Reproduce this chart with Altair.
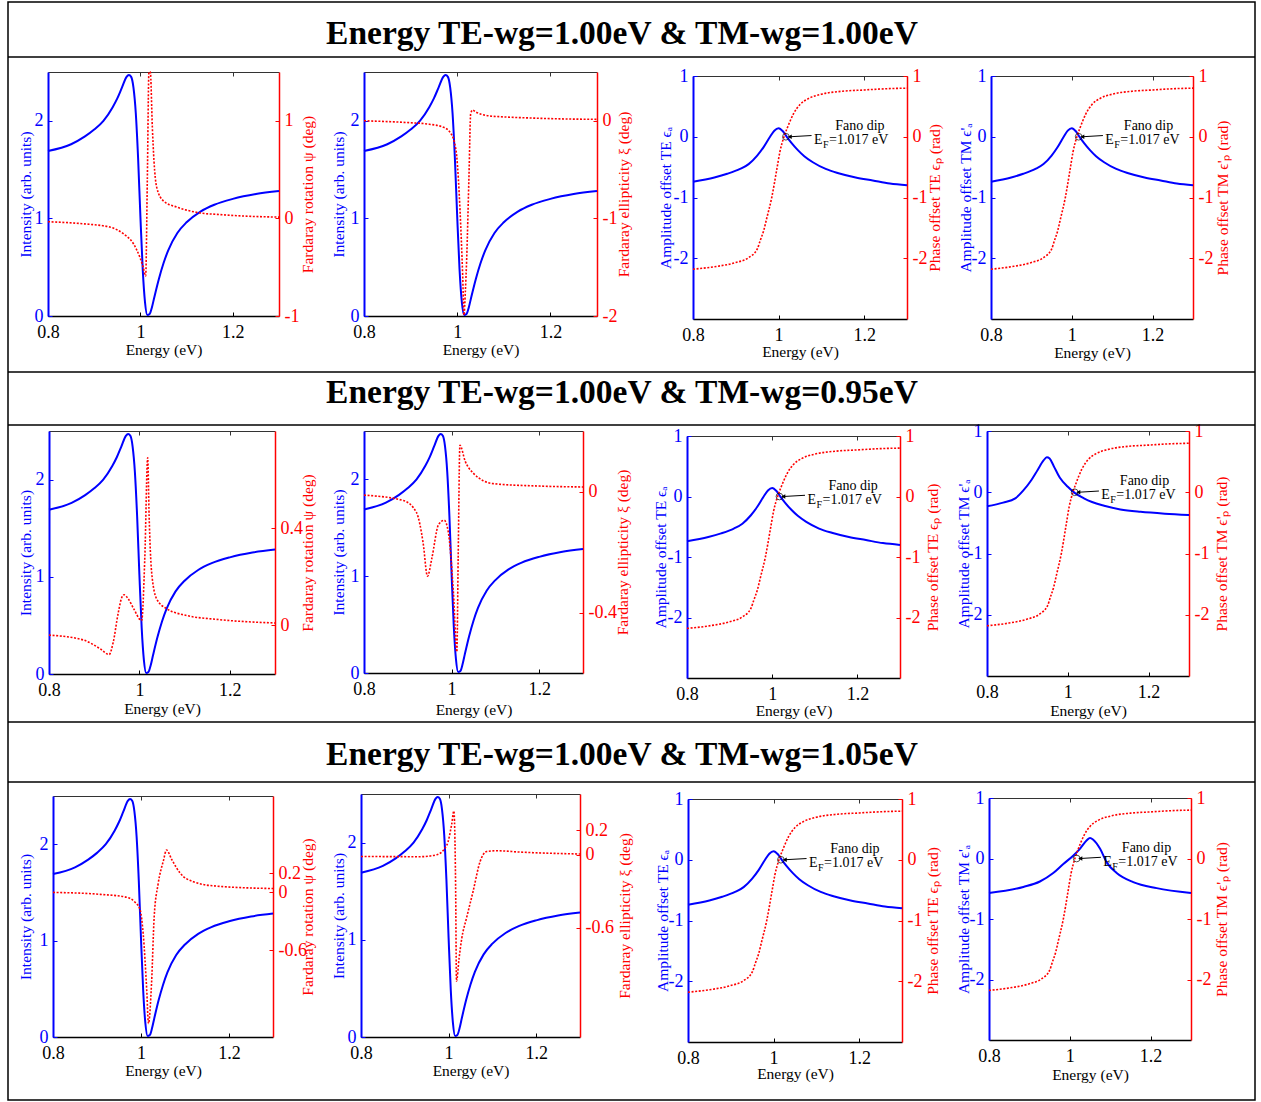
import altair as alt
import pandas as pd

# ---------------- text ----------------
HEADERS = [
    "Energy TE-wg=1.00eV & TM-wg=1.00eV",
    "Energy TE-wg=1.00eV & TM-wg=0.95eV",
    "Energy TE-wg=1.00eV & TM-wg=1.05eV",
]
T_X = "Energy (eV)"
T_INT = "Intensity (arb. units)"
T_ROT = "Fardaray rotation ψ (deg)"
T_ELL = "Fardaray ellipticity ξ (deg)"
T_AMP_TE = "Amplitude offset TE ϵₐ"
T_PH_TE = "Phase offset TE ϵₚ (rad)"
T_AMP_TM = "Amplitude offset TM ϵ'ₐ"
T_PH_TM = "Phase offset TM ϵ'ₚ (rad)"

X_TICKS = [0.8, 1.0, 1.2]

# ---------------- data ----------------
# transmitted intensity (same in every row, columns 1-2)
E_INT = [0.80, 0.85, 0.88, 0.90, 0.92, 0.94, 0.95, 0.96, 0.97, 0.975, 0.98, 0.985,
         0.99, 0.995, 1.00, 1.005, 1.01, 1.015, 1.02, 1.025, 1.03, 1.04, 1.05, 1.06,
         1.08, 1.10, 1.13, 1.16, 1.20, 1.25, 1.30]
INTENSITY = [1.69, 1.76, 1.84, 1.91, 2.00, 2.14, 2.23, 2.34, 2.45, 2.47, 2.45, 2.34,
             2.08, 1.62, 1.02, 0.48, 0.14, 0.01, 0.02, 0.09, 0.19, 0.38, 0.54, 0.67,
             0.85, 0.96, 1.07, 1.14, 1.20, 1.25, 1.28]

# Faraday rotation, row 1
E_ROT1 = [0.80, 0.876, 0.934, 0.963, 0.985, 0.999, 1.006, 1.0114, 1.0150, 1.0185,
          1.0215, 1.0258, 1.0294, 1.0352, 1.0496, 1.0785, 1.10, 1.13, 1.17, 1.22, 1.30]
ROT1 = [-0.034, -0.055, -0.089, -0.157, -0.26, -0.40, -0.50, -0.59, 0.40, 1.50,
        1.50, 0.94, 0.59, 0.32, 0.18, 0.116, 0.085, 0.055, 0.04, 0.025, 0.013]

# Faraday ellipticity, row 1
E_ELL1 = [0.80, 0.85, 0.90, 0.94, 0.97, 0.985, 0.994, 0.9989, 1.006, 1.0118, 1.0146,
          1.0175, 1.0203, 1.0253, 1.0289, 1.033, 1.04, 1.05, 1.07, 1.10, 1.15, 1.22, 1.30]
ELL1 = [0.0, -0.008, -0.02, -0.035, -0.065, -0.12, -0.22, -0.36, -0.91, -1.59, -1.99,
        -1.75, -1.42, -0.56, 0.07, 0.11, 0.09, 0.07, 0.05, 0.04, 0.03, 0.02, 0.015]

# Faraday rotation, row 2
E_ROT2 = [0.80, 0.876, 0.913, 0.933, 0.942, 0.953, 0.961, 0.966, 0.975, 0.987, 1.005,
          1.012, 1.0183, 1.0215, 1.027, 1.038, 1.060, 1.104, 1.17, 1.30]
ROT2 = [-0.04, -0.06, -0.096, -0.12, -0.07, 0.05, 0.115, 0.126, 0.11, 0.07, 0.02,
        0.28, 0.69, 0.45, 0.22, 0.11, 0.069, 0.041, 0.025, 0.01]

# Faraday ellipticity, row 2
E_ELL2 = [0.80, 0.89, 0.92, 0.935, 0.945, 0.955, 0.970, 0.983, 0.992, 1.004, 1.012,
          1.015, 1.019, 1.031, 1.050, 1.095, 1.20, 1.30]
ELL2 = [-0.012, -0.03, -0.07, -0.17, -0.28, -0.22, -0.11, -0.095, -0.13, -0.33, -0.53,
        -0.22, 0.153, 0.10, 0.06, 0.026, 0.018, 0.015]

# Faraday rotation, row 3
E_ROT3 = [0.80, 0.907, 0.967, 0.986, 0.998, 1.005, 1.013, 1.017, 1.024, 1.030, 1.039,
          1.051, 1.058, 1.070, 1.089, 1.119, 1.172, 1.30]
ROT3 = [0.0, -0.02, -0.05, -0.10, -0.18, -0.43, -1.01, -1.36, -0.94, -0.25, 0.09,
        0.33, 0.44, 0.34, 0.20, 0.11, 0.065, 0.04]

# Faraday ellipticity, row 3
E_ELL3 = [0.80, 0.935, 0.973, 0.996, 1.007, 1.012, 1.016, 1.018, 1.024, 1.030, 1.041,
          1.056, 1.072, 1.087, 1.110, 1.163, 1.30]
ELL3 = [-0.014, -0.016, 0.0, 0.08, 0.25, 0.36, -0.25, -1.04, -0.85, -0.69, -0.52,
        -0.30, -0.055, 0.027, 0.033, 0.022, 0.006]

# amplitude offset TE (also TM in row 1)
E_AMP = [0.80, 0.85, 0.88, 0.91, 0.93, 0.95, 0.965, 0.98, 0.99, 1.00, 1.01, 1.02,
         1.03, 1.045, 1.06, 1.08, 1.11, 1.14, 1.18, 1.22, 1.26, 1.30]
AMP_TE = [-0.74, -0.67, -0.61, -0.53, -0.45, -0.31, -0.17, 0.0, 0.10, 0.14, 0.09, -0.01,
          -0.10, -0.22, -0.32, -0.42, -0.53, -0.60, -0.67, -0.72, -0.77, -0.80]

# amplitude offset TM, row 2 and row 3
E_TM2 = [0.80, 0.84, 0.87, 0.89, 0.91, 0.925, 0.94, 0.948, 0.955, 0.965, 0.98, 1.0,
         1.017, 1.04, 1.06, 1.09, 1.13, 1.18, 1.24, 1.30]
AMP_TM2 = [-0.23, -0.17, -0.10, 0.03, 0.20, 0.36, 0.52, 0.57, 0.55, 0.43, 0.24, 0.09,
           -0.01, -0.10, -0.16, -0.22, -0.28, -0.32, -0.35, -0.37]
E_TM3 = [0.80, 0.885, 0.926, 0.959, 0.984, 1.009, 1.025, 1.042, 1.050, 1.058, 1.075,
         1.091, 1.116, 1.157, 1.215, 1.30]
AMP_TM3 = [-0.57, -0.47, -0.38, -0.24, -0.09, 0.05, 0.16, 0.30, 0.34, 0.31, 0.16,
           -0.06, -0.24, -0.39, -0.49, -0.57]

# phase offset (TE and TM)
E_PH = [0.80, 0.85, 0.90, 0.93, 0.95, 0.957, 0.965, 0.972, 0.984, 0.9955, 1.003, 1.0126,
        1.02, 1.027, 1.035, 1.05, 1.07, 1.10, 1.15, 1.20, 1.25, 1.30]
PHASE = [-2.18, -2.14, -2.07, -1.99, -1.85, -1.71, -1.55, -1.35, -1.0, -0.55, -0.25, 0.0,
         0.14, 0.26, 0.38, 0.53, 0.63, 0.70, 0.75, 0.77, 0.79, 0.80]

# Fano-dip annotation (data coordinates)
FANO_PT = [1.017, 0.0]
FANO_TXT = ["Fano dip", 1.19, 0.18]
EF_TXT = ["E", "F", "=1.017 eV", 1.083, -0.05]
ARROW = [1.077, 0.02, 1.026, 0.0]

# ---------------- layout (pixels) ----------------
FONT = "Liberation Serif"
BLUE, RED, GREY = "#0000ff", "#ff0000", "#333333"
OX, OY, W, H = 8, 2, 1247, 1098
HEADER_Y = [34, 393, 755]
SEP_Y = [57, 372, 425, 722, 782]

PANELS = [
    # row 1
    dict(box=(48, 279, 72, 316), l=(E_INT, INTENSITY, [0, 2.5], [0, 1, 2], T_INT),
         r=(E_ROT1, ROT1, [-1, 1.5], [-1, 0, 1], T_ROT), d=(23, 29, 34), fano=False),
    dict(box=(364, 597, 72, 316), l=(E_INT, INTENSITY, [0, 2.5], [0, 1, 2], T_INT),
         r=(E_ELL1, ELL1, [-2, 0.5], [-2, -1, 0], T_ELL), d=(26, 27, 34), fano=False),
    dict(box=(693, 907, 76, 319), l=(E_AMP, AMP_TE, [-3, 1], [-2, -1, 0, 1], T_AMP_TE),
         r=(E_PH, PHASE, [-3, 1], [-2, -1, 0, 1], T_PH_TE), d=(28, 28, 33), fano=True),
    dict(box=(991, 1193, 76, 319), l=(E_AMP, AMP_TE, [-3, 1], [-2, -1, 0, 1], T_AMP_TM),
         r=(E_PH, PHASE, [-3, 1], [-2, -1, 0, 1], T_PH_TM), d=(26, 30, 34), fano=True),
    # row 2
    dict(box=(49, 275, 431, 674), l=(E_INT, INTENSITY, [0, 2.5], [0, 1, 2], T_INT),
         r=(E_ROT2, ROT2, [-0.2, 0.8], [0, 0.4], T_ROT), d=(24, 33, 35), fano=False),
    dict(box=(364, 583, 431, 673), l=(E_INT, INTENSITY, [0, 2.5], [0, 1, 2], T_INT),
         r=(E_ELL2, ELL2, [-0.6, 0.2], [-0.4, 0], T_ELL), d=(26, 40, 37), fano=False),
    dict(box=(687, 900, 436, 678), l=(E_AMP, AMP_TE, [-3, 1], [-2, -1, 0, 1], T_AMP_TE),
         r=(E_PH, PHASE, [-3, 1], [-2, -1, 0, 1], T_PH_TE), d=(27, 33, 33), fano=True),
    dict(box=(987, 1189, 431, 676), l=(E_TM2, AMP_TM2, [-3, 1], [-2, -1, 0, 1], T_AMP_TM),
         r=(E_PH, PHASE, [-3, 1], [-2, -1, 0, 1], T_PH_TM), d=(24, 33, 35), fano=True),
    # row 3
    dict(box=(53, 273, 796, 1037), l=(E_INT, INTENSITY, [0, 2.5], [0, 1, 2], T_INT),
         r=(E_ROT3, ROT3, [-1.5, 1], [-0.6, 0, 0.2], T_ROT), d=(28, 35, 34), fano=False),
    dict(box=(361, 580, 794, 1037), l=(E_INT, INTENSITY, [0, 2.5], [0, 1, 2], T_INT),
         r=(E_ELL3, ELL3, [-1.5, 0.5], [-0.6, 0, 0.2], T_ELL), d=(23, 45, 34), fano=False),
    dict(box=(688, 902, 799, 1042), l=(E_AMP, AMP_TE, [-3, 1], [-2, -1, 0, 1], T_AMP_TE),
         r=(E_PH, PHASE, [-3, 1], [-2, -1, 0, 1], T_PH_TE), d=(26, 31, 32), fano=True),
    dict(box=(989, 1191, 798, 1040), l=(E_TM3, AMP_TM3, [-3, 1], [-2, -1, 0, 1], T_AMP_TM),
         r=(E_PH, PHASE, [-3, 1], [-2, -1, 0, 1], T_PH_TM), d=(26, 31, 35), fano=True),
]


def axis(**kw):
    base = dict(grid=False, labelFont=FONT, titleFont=FONT, labelFontSize=18,
                titleFontSize=15.5, titleFontWeight="normal", labelFlush=False,
                labelOverlap=False, labelExpr="datum.value + ''")
    base.update(kw)
    return alt.Axis(**base)


def frame(E, V):
    return pd.DataFrame({"E": E, "v": V})


layers = []
for p in PANELS:
    x0, x1, yt, yb = p["box"]
    lE, lV, ldom, lt, ltitle = p["l"]
    rE, rV, rdom, rt, rtitle = p["r"]
    dL, dR, dX = p["d"]
    xs = alt.Scale(domain=[0.8, 1.3], range=[x0 - OX, x1 - OX], nice=False, zero=False)
    ysl = alt.Scale(domain=ldom, range=[yb - OY, yt - OY], nice=False, zero=False)
    ysr = alt.Scale(domain=rdom, range=[yb - OY, yt - OY], nice=False, zero=False)

    # blue solid curve + bottom / left axes
    layers.append(
        alt.Chart(frame(lE, lV)).mark_line(color=BLUE, strokeWidth=2, interpolate="monotone").encode(
            x=alt.X("E:Q", scale=xs, axis=axis(
                orient="bottom", offset=(yb - OY) - H, values=X_TICKS, ticks=False,
                domainColor="black", domainWidth=1.5, labelColor="black", titleColor="black",
                title=T_X, labelPadding=7, titlePadding=0,
                minExtent=dX - 8, maxExtent=dX - 8)),
            y=alt.Y("v:Q", scale=ysl, axis=axis(
                orient="left", offset=-(x0 - OX), values=lt, ticks=False,
                domainColor=BLUE, domainWidth=2, labelColor=BLUE, titleColor=BLUE,
                title=ltitle, labelPadding=5, titlePadding=0, titleBaseline="bottom",
                minExtent=dL - 8, maxExtent=dL - 8)),
        )
    )
    # red dotted curve + top / right axes
    layers.append(
        alt.Chart(frame(rE, rV)).mark_line(color=RED, strokeWidth=1.6, strokeDash=[2, 1.6],
                                           interpolate="monotone").encode(
            x=alt.X("E:Q", scale=xs, axis=axis(
                orient="top", offset=-(yt - OY), values=X_TICKS, ticks=False, labels=False,
                domainColor=GREY, domainWidth=1.2, title=None)),
            y=alt.Y("v:Q", scale=ysr, axis=axis(
                orient="right", offset=(x1 - OX) - W, values=rt, ticks=False,
                domainColor=RED, domainWidth=1.5, labelColor=RED, titleColor=RED,
                title=rtitle, titleAngle=270, titleBaseline="top", labelPadding=5,
                titlePadding=0, minExtent=dR - 8, maxExtent=dR - 8)),
        )
    )
    # inward ticks (bottom + left)
    layers.append(
        alt.Chart(frame([0.8], [ldom[0]])).mark_point(opacity=0).encode(
            x=alt.X("E:Q", scale=xs, axis=axis(
                orient="bottom", offset=(yb - OY - 4) - H, values=X_TICKS, tickSize=4,
                tickColor="black", labels=False, domain=False, title=None)),
            y=alt.Y("v:Q", scale=ysl, axis=axis(
                orient="left", offset=-(x0 - OX + 4), values=lt, tickSize=4,
                tickColor=BLUE, labels=False, domain=False, title=None)),
        )
    )
    # inward ticks (top + right)
    layers.append(
        alt.Chart(frame([0.8], [rdom[0]])).mark_point(opacity=0).encode(
            x=alt.X("E:Q", scale=xs, axis=axis(
                orient="top", offset=-(yt - OY + 4), values=X_TICKS, tickSize=4,
                tickColor=GREY, labels=False, domain=False, title=None)),
            y=alt.Y("v:Q", scale=ysr, axis=axis(
                orient="right", offset=(x1 - OX - 4) - W, values=rt, tickSize=4,
                tickColor=RED, labels=False, domain=False, title=None)),
        )
    )

    if p["fano"]:
        enc = dict(x=alt.X("E:Q", scale=xs, axis=None), y=alt.Y("v:Q", scale=ysl, axis=None))
        layers.append(alt.Chart(frame([FANO_PT[0]], [FANO_PT[1]])).mark_point(
            shape="circle", filled=False, color="black", size=45, strokeWidth=1).encode(**enc))
        layers.append(alt.Chart(pd.DataFrame({"E": [ARROW[0]], "v": [ARROW[1]],
                                              "E2": [ARROW[2]], "v2": [ARROW[3]]})).mark_rule(
            color="black", strokeWidth=1).encode(x2="E2:Q", y2="v2:Q", **enc))
        layers.append(alt.Chart(frame([ARROW[2]], [ARROW[3]])).mark_point(
            shape="triangle-left", filled=True, color="black", size=22, opacity=1).encode(**enc))
        layers.append(alt.Chart(pd.DataFrame({"E": [FANO_TXT[1]], "v": [FANO_TXT[2]], "t": [FANO_TXT[0]]}))
                      .mark_text(font=FONT, fontSize=14, align="center", baseline="middle", color="black")
                      .encode(text="t:N", **enc))
        ef = pd.DataFrame({"E": [EF_TXT[3]], "v": [EF_TXT[4]], "a": [EF_TXT[0]],
                           "b": [EF_TXT[1]], "c": [EF_TXT[2]]})
        layers.append(alt.Chart(ef).mark_text(font=FONT, fontSize=14, align="left", baseline="middle",
                                              color="black").encode(text="a:N", **enc))
        layers.append(alt.Chart(ef).mark_text(font=FONT, fontSize=10, align="left", baseline="middle",
                                              color="black", dx=9, dy=5).encode(text="b:N", **enc))
        layers.append(alt.Chart(ef).mark_text(font=FONT, fontSize=14, align="left", baseline="middle",
                                              color="black", dx=15).encode(text="c:N", **enc))

# row headers
for txt, hy in zip(HEADERS, HEADER_Y):
    layers.append(
        alt.Chart(pd.DataFrame({"t": [txt]})).mark_text(
            font=FONT, fontSize=33.5, fontWeight="bold", align="center", baseline="middle",
            color="black").encode(text="t:N", x=alt.value(622 - OX), y=alt.value(hy - OY))
    )
# separator lines
for sy in SEP_Y:
    layers.append(
        alt.Chart(pd.DataFrame({"k": [0]})).mark_rule(color="black", strokeWidth=1.5).encode(
            x=alt.value(0), x2=alt.value(W), y=alt.value(sy - OY))
    )

chart = (
    alt.layer(*layers)
    .resolve_scale(x="independent", y="independent")
    .resolve_axis(x="independent", y="independent")
    .properties(width=W, height=H, background="white",
                autosize=alt.AutoSizeParams(type="none"),
                padding={"left": OX, "top": OY, "right": 6, "bottom": 2})
    .configure_view(stroke="black", strokeWidth=1.5)
)

chart.save("out.html", embed_options={"renderer": "svg", "actions": False})
